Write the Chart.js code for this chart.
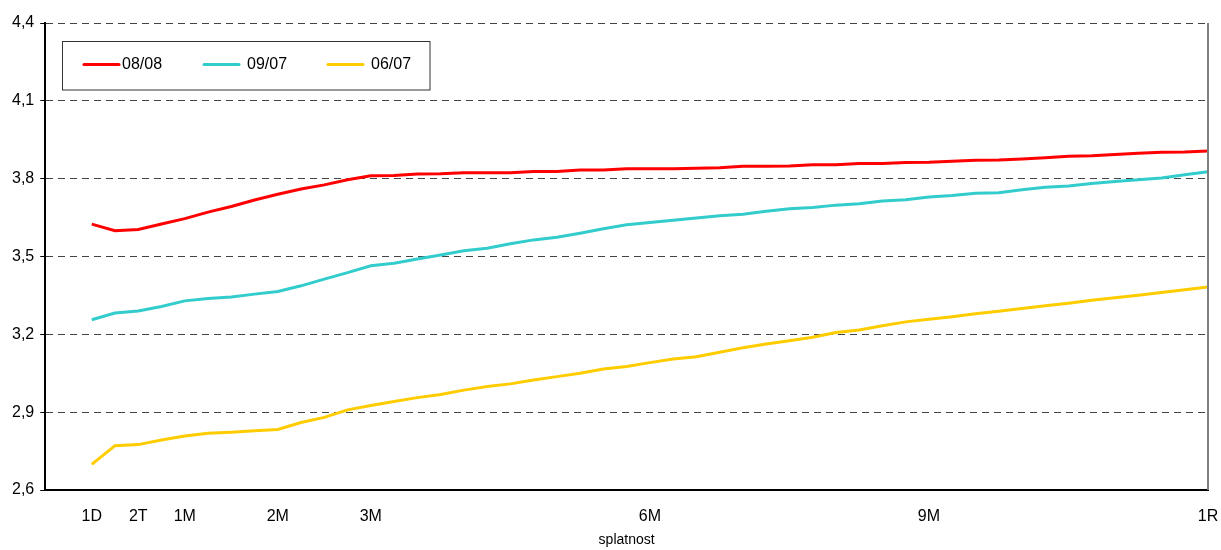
<!DOCTYPE html>
<html>
<head>
<meta charset="utf-8">
<script src="https://cdn.jsdelivr.net/npm/chart.js@4.4.0/dist/chart.umd.min.js"></script>
<style>
  body { margin: 0; background: #fff; }
</style>
</head>
<body>
<canvas id="myChart1" width="1221" height="550"></canvas>
<script>
// TICK LABELS ON X AXIS (index = step of maturity, 4 steps per month)
const tickLabels = ['1D', '2T', '1M', '2M', '3M', '6M', '9M', '1R']
const tickSteps = [0, 2, 4, 8, 12, 24, 36, 48]

// SERIES NAMES AND VALUES (%), 49 points each, from 1D to 1R
const seriesNames = ['08/08', '09/07', '06/07']

const aug08 = [3.625, 3.599, 3.604, 3.625, 3.646, 3.671, 3.693, 3.718, 3.740, 3.760,
  3.776, 3.796, 3.811, 3.812, 3.818, 3.819, 3.823, 3.823, 3.823, 3.828,
  3.828, 3.833, 3.833, 3.838, 3.838, 3.838, 3.840, 3.842, 3.848, 3.848,
  3.849, 3.854, 3.854, 3.858, 3.858, 3.862, 3.863, 3.867, 3.871, 3.872,
  3.876, 3.881, 3.886, 3.888, 3.893, 3.898, 3.902, 3.903, 3.907]

const jul09 = [3.256, 3.282, 3.290, 3.307, 3.329, 3.338, 3.344, 3.355, 3.365, 3.387,
  3.413, 3.438, 3.464, 3.474, 3.490, 3.506, 3.522, 3.532, 3.549, 3.564,
  3.574, 3.590, 3.607, 3.622, 3.631, 3.640, 3.648, 3.657, 3.663, 3.674,
  3.684, 3.689, 3.698, 3.703, 3.714, 3.719, 3.729, 3.735, 3.744, 3.746,
  3.757, 3.767, 3.772, 3.781, 3.789, 3.796, 3.803, 3.815, 3.827]

const jul06 = [2.699, 2.771, 2.775, 2.793, 2.808, 2.819, 2.823, 2.828, 2.833, 2.860,
  2.880, 2.909, 2.926, 2.941, 2.956, 2.968, 2.985, 2.999, 3.009, 3.024,
  3.037, 3.050, 3.066, 3.076, 3.091, 3.105, 3.114, 3.131, 3.148, 3.163,
  3.175, 3.189, 3.207, 3.217, 3.233, 3.248, 3.258, 3.268, 3.279, 3.289,
  3.300, 3.310, 3.320, 3.331, 3.341, 3.351, 3.361, 3.372, 3.382]

const colors = ['#ff0000', '#33cccc', '#ffcc00']

const FONT = 'Liberation Sans, Arial, sans-serif'

function toPoints(values) {
  return values.map((v, i) => ({x: i, y: v}))
}

// LEGEND BOX INSIDE THE PLOT + GREY RIGHT EDGE
const boxLegend = {
  id: 'boxLegend',
  afterDraw(chart) {
    const {ctx, chartArea} = chart
    ctx.save()
    // right frame line
    ctx.strokeStyle = '#808080'
    ctx.lineWidth = 2
    ctx.beginPath()
    ctx.moveTo(chartArea.right, chartArea.top)
    ctx.lineTo(chartArea.right, chartArea.bottom)
    ctx.stroke()

    // legend frame
    ctx.fillStyle = '#fff'
    ctx.fillRect(62, 41.5, 368, 48.5)
    ctx.strokeStyle = '#333'
    ctx.lineWidth = 1
    ctx.strokeRect(62.5, 41.5, 367.5, 48.5)

    const starts = [84, 204, 328]
    ctx.font = '16px ' + FONT
    ctx.textBaseline = 'middle'
    chart.data.datasets.forEach((ds, i) => {
      ctx.strokeStyle = ds.borderColor
      ctx.lineWidth = 3
      ctx.lineCap = 'round'
      ctx.beginPath()
      ctx.moveTo(starts[i], 64.5)
      ctx.lineTo(starts[i] + 35, 64.5)
      ctx.stroke()
      ctx.fillStyle = '#000'
      ctx.fillText(ds.label, starts[i] + (i === 0 ? 38 : 43), 65)
    })
    ctx.restore()
  }
}

// DRAW LINE GRAPH FOR YIELD CURVES
const ctx = document.getElementById('myChart1')
new Chart(ctx, {
  type: 'line',
  data: {
    datasets: [aug08, jul09, jul06].map((vals, i) => ({
      label: seriesNames[i],
      data: toPoints(vals),
      borderColor: colors[i],
      backgroundColor: colors[i],
      borderWidth: 3,
      pointRadius: 0,
      tension: 0,
      fill: false,
    })),
  },
  options: {
    responsive: false,
    animation: false,
    layout: {
      padding: {left: 6, right: 13, top: 23, bottom: 0}
    },
    plugins: {
      legend: {display: false},
      tooltip: {enabled: false},
    },
    scales: {
      x: {
        type: 'linear',
        min: -2,
        max: 48,
        afterBuildTicks: (scale) => {
          scale.ticks = tickSteps.map(v => ({value: v}))
        },
        afterFit: (scale) => {
          scale.height = 60
          scale.paddingRight = 0
        },
        ticks: {
          autoSkip: false,
          maxRotation: 0,
          padding: 17,
          color: '#000',
          font: {family: FONT, size: 16},
          callback: (v) => tickLabels[tickSteps.indexOf(v)],
        },
        grid: {display: false, drawTicks: false},
        border: {display: true, color: '#000', width: 2},
        title: {
          display: true,
          text: 'splatnost',
          color: '#000',
          font: {family: FONT, size: 14},
          padding: {top: 0, bottom: 1},
        },
      },
      y: {
        min: 2.6,
        max: 4.4,
        ticks: {
          stepSize: 0.3,
          padding: 6,
          color: '#000',
          font: {family: FONT, size: 16},
          callback: (v) => v.toFixed(1).replace('.', ','),
        },
        grid: {
          color: '#444',
          lineWidth: 1,
          tickLength: 5,
          tickColor: '#000',
          tickBorderDash: [],
        },
        border: {display: true, color: '#000', width: 2, dash: [7, 5]},
      },
    },
  },
  plugins: [boxLegend],
})
</script>
</body>
</html>
